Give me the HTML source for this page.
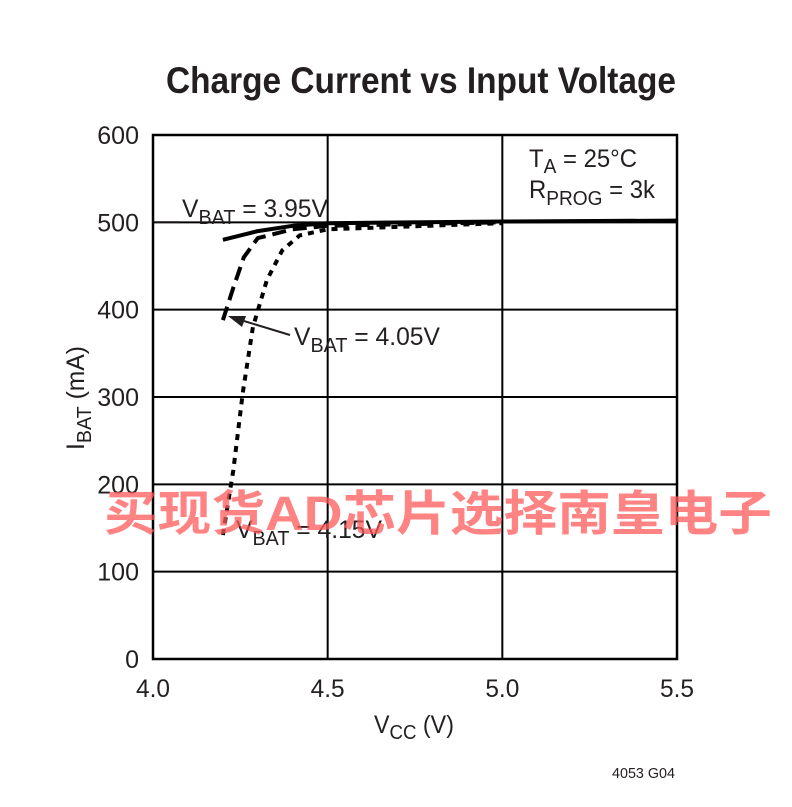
<!DOCTYPE html>
<html><head><meta charset="utf-8"><style>
html,body{margin:0;padding:0;background:#fff;}
svg{display:block;font-family:"Liberation Sans",sans-serif;}
</style></head><body>
<svg id="chart" width="792" height="807" viewBox="0 0 792 807" xmlns="http://www.w3.org/2000/svg">
<rect width="792" height="807" fill="#fff"/>
<text x="421" y="93" text-anchor="middle" font-size="37" font-weight="bold" textLength="510" lengthAdjust="spacingAndGlyphs" fill="#231f20">Charge Current vs Input Voltage</text>
<g id="grid"></g>
<g id="series"></g>
<g id="labels" fill="#231f20">
<text transform="translate(84,450) rotate(-90)" font-size="25" textLength="104" lengthAdjust="spacingAndGlyphs">I<tspan font-size="20" dy="7">BAT</tspan><tspan dy="-7"> (mA)</tspan></text>
<text x="374" y="733" font-size="25" textLength="80" lengthAdjust="spacingAndGlyphs">V<tspan font-size="20" dy="6">CC</tspan><tspan dy="-6"> (V)</tspan></text>
<text x="612" y="778" font-size="15" textLength="63" lengthAdjust="spacingAndGlyphs">4053 G04</text>
<text x="529" y="167" font-size="25" textLength="108" lengthAdjust="spacingAndGlyphs">T<tspan font-size="20" dy="6">A</tspan><tspan dy="-6"> = 25°C</tspan></text>
<text x="529" y="198" font-size="25" textLength="126" lengthAdjust="spacingAndGlyphs">R<tspan font-size="20" dy="7">PROG</tspan><tspan dy="-7"> = 3k</tspan></text>
<text x="182" y="217" font-size="25" textLength="146" lengthAdjust="spacingAndGlyphs">V<tspan font-size="20" dy="7">BAT</tspan><tspan dy="-7"> = 3.95V</tspan></text>
<line x1="155" y1="222" x2="179" y2="222" stroke="#231f20" stroke-width="1.5"/>
<text x="294" y="345" font-size="25" textLength="146" lengthAdjust="spacingAndGlyphs">V<tspan font-size="20" dy="7">BAT</tspan><tspan dy="-7"> = 4.05V</tspan></text>
<line x1="290" y1="335" x2="234" y2="318" stroke="#231f20" stroke-width="2"/>
<polygon points="228,316 246,316 242,327" fill="#231f20"/>
<text x="236" y="538" font-size="25" textLength="146" lengthAdjust="spacingAndGlyphs">V<tspan font-size="20" dy="7">BAT</tspan><tspan dy="-7"> = 4.15V</tspan></text>
</g>
<text x="104" y="530" font-family="'Liberation Sans','Noto Sans CJK SC',sans-serif" font-size="48" font-weight="bold" textLength="668" lengthAdjust="spacingAndGlyphs" fill="rgba(255,90,90,0.75)">买现货AD芯片选择南皇电子</text>
</svg>
<script>
const xTicks=[4.0,4.5,5.0,5.5];
const xTickLabels=["4.0","4.5","5.0","5.5"];
const yTicks=[0,100,200,300,400,500,600];
const yTickLabels=["0","100","200","300","400","500","600"];
const vcc395=[4.2,4.3,4.4,4.5,5.0,5.5];
const ibat395=[480,490,496,499,501,502];
const vcc405=[4.2,4.23,4.26,4.3,4.4,4.5,5.0];
const ibat405=[388,425,460,482,492,496,500];
const vcc415=[4.2,4.23,4.257,4.286,4.326,4.37,4.42,4.5,5.0];
const ibat415=[142,216,305,380,434,468,485,492,499];

const X0=153,X1=677,Y0=659,Y1=135;
const sx=v=>X0+(v-4.0)/(5.5-4.0)*(X1-X0);
const sy=i=>Y0-i/600*(Y0-Y1);
const NS="http://www.w3.org/2000/svg";
const grid=document.getElementById('grid');
const series=document.getElementById('series');
function mk(tag,attrs,parent){const e=document.createElementNS(NS,tag);for(const k in attrs)e.setAttribute(k,attrs[k]);parent.appendChild(e);return e;}

xTicks.forEach((v,i)=>{
  const l=mk('line',{x1:sx(v),x2:sx(v),y1:Y1,y2:Y0,stroke:'#000','stroke-width':2},grid);
  
  
  const t=mk('text',{x:sx(v),y:697,'text-anchor':'middle','font-size':25,fill:'#231f20',textLength:34,lengthAdjust:'spacingAndGlyphs'},grid);
  t.textContent=xTickLabels[i];
  
  
});
yTicks.forEach((v,i)=>{
  const l=mk('line',{x1:X0,x2:X1,y1:sy(v),y2:sy(v),stroke:'#000','stroke-width':2},grid);
  
  
  const t=mk('text',{x:139,y:sy(v)+9,'text-anchor':'end','font-size':25,fill:'#231f20'},grid);
  t.textContent=yTickLabels[i];
  
  
});
const frame=mk('rect',{x:X0,y:Y1,width:X1-X0,height:Y0-Y1,fill:'none',stroke:'#000','stroke-width':2.5},grid);



function curve(xs,ys,dash,name){
  let d='';
  xs.forEach((v,i)=>{d+=(i?'L':'M')+sx(v).toFixed(1)+','+sy(ys[i]).toFixed(1);});
  const p=mk('path',{d:d,fill:'none',stroke:'#000','stroke-width':4,'stroke-dasharray':dash,'stroke-linejoin':'round'},series);
  
  
}
curve(vcc415,ibat415,'6 6','series-vbat-415');
curve(vcc405,ibat405,'14 7','series-vbat-405');
curve(vcc395,ibat395,'none','series-vbat-395');
</script>
</body></html>
